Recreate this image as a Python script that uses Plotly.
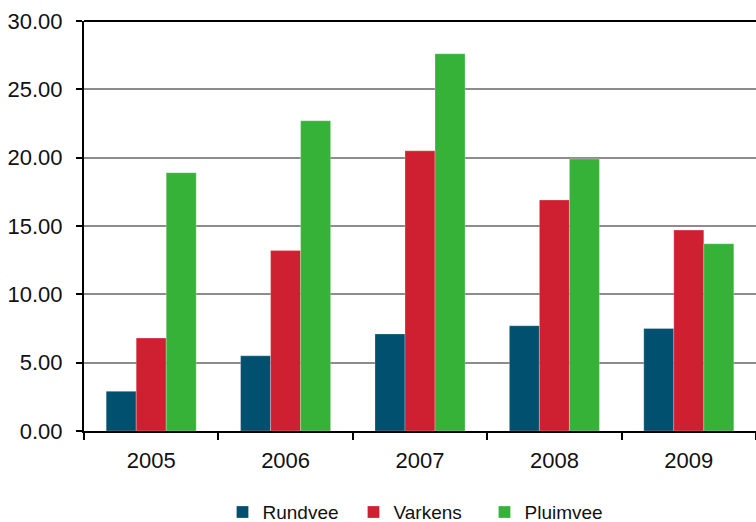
import plotly.graph_objects as go

years = ["2005", "2006", "2007", "2008", "2009"]
rundvee = [2.9, 5.5, 7.1, 7.7, 7.5]
varkens = [6.8, 13.2, 20.5, 16.9, 14.7]
pluimvee = [18.9, 22.7, 27.6, 19.9, 13.7]

series = [
    ("Rundvee", rundvee, "#02506F"),
    ("Varkens", varkens, "#CE2030"),
    ("Pluimvee", pluimvee, "#36B238"),
]

fig = go.Figure()
for name, vals, col in series:
    fig.add_trace(go.Bar(
        x=years, y=vals, name=name,
        marker=dict(color=col, line=dict(color="rgba(255,255,255,0.5)", width=0.5)),
    ))

font = "Liberation Sans, Arial, sans-serif"
fig.update_layout(
    width=756, height=522,
    margin=dict(l=84, r=0, t=21, b=91, autoexpand=False),
    paper_bgcolor="white", plot_bgcolor="white",
    barmode="group", bargap=0.33, bargroupgap=0,
    font=dict(family=font, color="#111111", size=20),
    showlegend=True,
    legend=dict(orientation="h", x=0.4985, xanchor="center", y=-0.198, yanchor="middle",
                font=dict(size=19), itemwidth=30, traceorder="normal",
                entrywidth=86, entrywidthmode="pixels"),
    xaxis=dict(type="category", showline=True, linecolor="black", linewidth=2,
               ticks="outside", tickson="boundaries", ticklen=7, tickwidth=2,
               tickcolor="black", showgrid=False, tickfont=dict(size=22),
               ticklabelstandoff=9),
    yaxis=dict(range=[0, 30], tickvals=[0, 5, 10, 15, 20, 25, 30],
               tickformat=".2f", showline=True, linecolor="black", linewidth=2,
               ticks="outside", ticklen=6, tickwidth=2, tickcolor="black",
               showgrid=True, gridcolor="#8c8c8c", gridwidth=1.5,
               zeroline=False, tickfont=dict(size=22), ticklabelstandoff=9),
    shapes=[dict(type="line", xref="paper", yref="paper", x0=0, x1=1, y0=1, y1=1,
                 line=dict(color="black", width=2))],
)

fig.write_html("out.html")
